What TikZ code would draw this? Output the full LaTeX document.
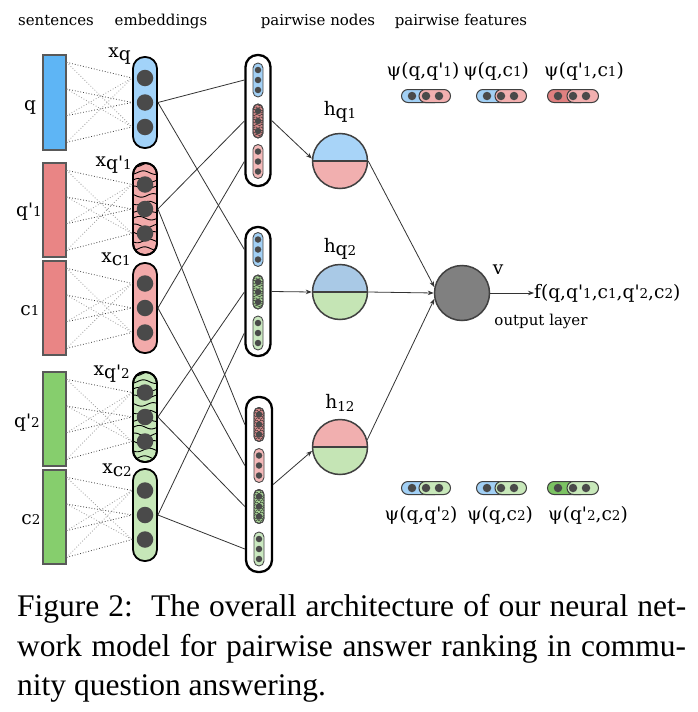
\documentclass[tikz,border=0pt]{standalone}
\usepackage{fontspec}
\setmainfont{DejaVu Serif}
\newfontfamily\capfont{Liberation Serif}
\usetikzlibrary{arrows.meta,calc}
\pgfdeclarelayer{bg}
\pgfsetlayers{bg,main}
\definecolor{sblue}{HTML}{5EB5F5}
\definecolor{sred}{HTML}{E98585}
\definecolor{sgreen}{HTML}{86CE6D}
\definecolor{eblue}{HTML}{A2D3F9}
\definecolor{ered}{HTML}{F2AAAA}
\definecolor{egreen}{HTML}{C6E7B8}
\definecolor{dotc}{HTML}{4A4A4A}
\definecolor{hblue}{HTML}{A8D4F8}
\definecolor{hblueb}{HTML}{A9C9E6}
\definecolor{hpink}{HTML}{F1AFAF}
\definecolor{hgreen}{HTML}{C5E5B5}
\definecolor{mblue}{HTML}{A2D0F5}
\definecolor{mred}{HTML}{D68A8A}
\definecolor{mpink}{HTML}{F4B9B9}
\definecolor{mgreen}{HTML}{A6D094}
\definecolor{mlgreen}{HTML}{CAE8C0}
\definecolor{fblue}{HTML}{A2D0F5}
\definecolor{fpink}{HTML}{F2AFAF}
\definecolor{fred}{HTML}{E08080}
\definecolor{fgreen}{HTML}{7CC363}
\definecolor{fgreenl}{HTML}{C8E8BA}
\definecolor{vgray}{HTML}{808080}
\definecolor{lc}{HTML}{333333}
\newcommand\hdrsz{\fontsize{15}{18}\selectfont}
\newcommand\lbsz{\fontsize{18.6}{21}\selectfont}
\newcommand\od[1]{{\fontsize{13.5}{13.5}\selectfont #1}}
\newcommand\lowr[1]{\raisebox{-3pt}{#1}}
\newcommand\pr{\textquotesingle}
\tikzset{
  sent/.style={draw=black!65, line width=1.3pt, fill=#1, minimum width=23pt, inner sep=0pt},
  emb/.style={draw=black, line width=1.8pt, fill=#1, rounded corners=11.5pt, minimum width=24pt, inner sep=0pt},
  bigdot/.style={circle, fill=dotc, minimum size=16.5pt, inner sep=0pt},
  pair/.style={draw=black, line width=2.3pt, fill=white, rounded corners=12pt, minimum width=25pt, inner sep=0pt},
  mini/.style={draw=black!70, line width=0.9pt, fill=#1, rounded corners=5pt, minimum width=10pt, minimum height=34pt, inner sep=0pt},
  smalldot/.style={circle, fill=dotc, minimum size=6.5pt, inner sep=0pt},
  feat/.style={draw=black!75, line width=1pt, fill=#1, rounded corners=6.5pt, minimum height=13pt, inner sep=0pt},
  fdot/.style={circle, fill=dotc, minimum size=8.5pt, inner sep=0pt},
  hnode/.style 2 args={circle, draw=black!75, line width=1.5pt, minimum size=55pt, inner sep=0pt,
    path picture={
      \fill[#1] (path picture bounding box.north west) rectangle (path picture bounding box.east);
      \fill[#2] (path picture bounding box.west) rectangle (path picture bounding box.south east);
      \draw[black!75, line width=1.5pt] (path picture bounding box.west) -- (path picture bounding box.east);}},
  conn/.style={draw=lc, line width=0.8pt},
  arr/.style={conn, -{Stealth[length=6pt, width=4.5pt]}},
  dk/.style={draw=black!75, line width=0.8pt, dotted},
  gr/.style={draw=black!40, line width=0.8pt, dotted},
  hdr/.style={inner sep=0pt, anchor=base, font=\hdrsz},
  lbl/.style={inner sep=0pt, anchor=base, font=\lbsz},
}
\begin{document}
\begin{tikzpicture}[x=1pt,y=-1pt]
\path[use as bounding box, fill=white] (0,0) rectangle (698,712);

% headers
\node[hdr] (hs) at (56,25) {sentences};
\node[hdr] (he) at (161,25) {embeddings};
\node[hdr] (hp) at (318,25) {pairwise nodes};
\node[hdr] (hf) at (461,25) {pairwise features};

% sentences
\node[sent=sblue, minimum height=95pt] (sq) at (54.5,102.5) {};
\node[sent=sred, minimum height=94pt] (sqa) at (54.5,210) {};
\node[sent=sred, minimum height=94pt] (sc) at (54.5,308) {};
\node[sent=sgreen, minimum height=94pt] (sqb) at (54.5,419) {};
\node[sent=sgreen, minimum height=94pt] (scb) at (54.5,517) {};
\node[lbl] (lq) at (30,110) {q};
\node[lbl] (lqa) at (29,216) {q\pr\od{1}};
\node[lbl] (lc) at (30,315) {c\od{1}};
\node[lbl] (lqb) at (27,427) {q\pr\od{2}};
\node[lbl] (lcb) at (31,524) {c\od{2}};

% embeddings
\foreach \nm/\col/\yy/\hh in {eq/eblue/102.5/91, eqa/ered/209/92, ec/ered/308/90, eqb/egreen/417/90, ecb/egreen/515/92}{
  \node[emb=\col, minimum height=\hh pt] (\nm) at (145,\yy) {};
}
% wavy stripes on two embeddings
\foreach \nm/\yy/\hh in {eqa/209/92, eqb/417/90}{
  \begin{scope}
    \clip[rounded corners=11pt] (133,{\yy-\hh/2}) rectangle (157,{\yy+\hh/2});
    \foreach \k in {0,...,12}{
      \draw[line width=0.9pt, black] plot[domain=130:160, samples=16, smooth] (\x, {\yy-\hh/2+2+\k*7.6+1.8*sin((\x-130)*15+\k*70)});
    }
  \end{scope}
  \draw[line width=1.8pt, rounded corners=11.5pt] (133,{\yy-\hh/2}) rectangle (157,{\yy+\hh/2});
}
\foreach \nm/\yy in {eq/102.5, eqa/209, ec/308, eqb/417, ecb/515}{
  \foreach \n/\o in {1/-24.5,2/0,3/24.5} \node[bigdot] (\nm\n) at (145,{\yy+(\o)}) {};
}
\node[lbl, anchor=base east] (leq) at (131,57) {x\lowr{q}};
\node[lbl, anchor=base east] (leqa) at (132,166) {x\lowr{q\pr\od{1}}};
\node[lbl, anchor=base east] (lec) at (131,262) {x\lowr{c\od{1}}};
\node[lbl, anchor=base east] (leqb) at (130,375) {x\lowr{q\pr\od{2}}};
\node[lbl, anchor=base east] (lecb) at (132,473) {x\lowr{c\od{2}}};

% dotted sentence -> embedding
\foreach \s/\e in {sq/eq, sqa/eqa, sc/ec, sqb/eqb, scb/ecb}{
  \coordinate (\s-p1) at ($(\s.north east)+(0,8)$);
  \coordinate (\s-p2) at ($(\s.north east)+(0,34.7)$);
  \coordinate (\s-p3) at ($(\s.north east)+(0,61.3)$);
  \coordinate (\s-p4) at ($(\s.north east)+(0,88)$);
  \draw[dk] (\s-p1) -- (\e1 -| \e.west);
  \draw[gr] (\s-p1) -- (\e3 -| \e.west);
  \draw[dk] (\s-p2) -- (\e2 -| \e.west);
  \draw[gr] (\s-p2) -- (\e3 -| \e.west);
  \draw[dk] (\s-p3) -- (\e2 -| \e.west);
  \draw[gr] (\s-p3) -- (\e1 -| \e.west);
  \draw[gr] (\s-p4) -- (\e1 -| \e.west);
  \draw[dk] (\s-p4) -- (\e3 -| \e.west);
}

% pairwise nodes
\node[pair, minimum height=131pt] (P1) at (258,120.5) {};
\node[pair, minimum height=129pt] (P2) at (258,291.5) {};
\node[pair, minimum height=175pt, minimum width=26pt] (P3) at (259,484.5) {};
\foreach \nm/\px/\yy/\col in {p1a/258/80/mblue, p1b/258/121/mred, p1c/258/161.5/mpink, p2a/258/249.5/mblue, p2b/258/292/mgreen, p2c/258/333/mlgreen, p3a/259/424.5/mred, p3b/259/465.5/mpink, p3c/259/506.5/mgreen, p3d/259/549/mlgreen}{
  \node[mini=\col] (\nm) at (\px,\yy) {};
}
\foreach \px/\yy in {258/121, 258/292, 259/424.5, 259/506.5}{
  \begin{scope}
    \clip[rounded corners=5pt] ({\px-5},{\yy-17}) rectangle ({\px+5},{\yy+17});
    \foreach \k in {0,...,13}{
      \draw[line width=0.45pt, black!85] plot[domain={\px-7}:{\px+7}, samples=9, smooth] (\x, {\yy-17+1+\k*2.5+1*sin((\x-\px)*70+\k*90)});
    }
  \end{scope}
  \draw[black!70, line width=0.9pt, rounded corners=5pt] ({\px-5},{\yy-17}) rectangle ({\px+5},{\yy+17});
}
\foreach \nm/\px/\yy in {p1a/258/80, p1b/258/121, p1c/258/161.5, p2a/258/249.5, p2b/258/292, p2c/258/333, p3a/259/424.5, p3b/259/465.5, p3c/259/506.5, p3d/259/549}{
  \foreach \n/\o in {1/-10,2/0,3/10} \node[smalldot] (\nm d\n) at (\px,{\yy+(\o)}) {};
}

% embeddings -> pairwise
\draw[conn] (eq.east) -- (p1a -| P1.west);
\draw[conn] (eq.east) -- (p2a -| P2.west);
\draw[conn] (eqa.east) -- (p1b -| P1.west);
\draw[conn] (eqa.east) -- (p3a -| P3.west);
\draw[conn] (ec.east) -- (p1c -| P1.west);
\draw[conn] (ec.east) -- (p3b -| P3.west);
\draw[conn] (eqb.east) -- (p2b -| P2.west);
\draw[conn] (eqb.east) -- (p3c -| P3.west);
\draw[conn] (ecb.east) -- (p2c -| P2.west);
\draw[conn] (ecb.east) -- (p3d -| P3.west);

% hidden nodes
\node[hnode={hblue}{hpink}] (hq1) at (340,161) {};
\node[hnode={hblueb}{hgreen}] (hq2) at (340,292) {};
\node[hnode={hpink}{hgreen}] (h12) at (340,447) {};
\node[lbl] (lhq1) at (340,115) {h\lowr{q\od{1}}};
\node[lbl] (lhq2) at (340,252) {h\lowr{q\od{2}}};
\node[lbl] (lh12) at (340,408) {h\lowr{\od{12}}};
\draw[arr] (P1.east) -- (hq1.175);
\draw[arr] (P2.east) -- (hq2.west);
\draw[arr] (P3.east) -- (h12.188);

% output
\node[circle, fill=vgray, draw=black!75, line width=1.5pt, minimum size=55pt, inner sep=0pt] (v) at (462,293) {};
\node[lbl] (lv) at (498,274) {v};
\node[hdr] (lout) at (541,325) {output layer};
\node[lbl, anchor=west] (fo) at (534,293) {f(q,q\pr\od{1},c\od{1},q\pr\od{2},c\od{2})};
\draw[arr] (v.east) -- (fo.west);
\draw[arr] (hq1.east) -- (v.168);
\draw[arr] (hq2.east) -- (v.west);
\draw[arr] (h12.15) -- (v.192);

% pairwise features
\foreach \nm/\xl/\xr/\xe/\yy/\ca/\cb in {ft1/401/420/451/96/fblue/fpink, ft2/476/495/527/96/fblue/fpink, ft3/547/567/599/96/fred/fpink, fb1/401/420/451/488/fblue/fgreenl, fb2/476/495/527/488/fblue/fgreenl, fb3/547/567/599/488/fgreen/fgreenl}{
  \node[feat=\ca, minimum width=40pt, anchor=west] (\nm-l) at (\xl,\yy) {};
  \node[feat=\cb, minimum width=31.5pt, anchor=east] (\nm-r) at (\xe,\yy) {};
  \node[fdot] (\nm-d1) at ({\xl+11},\yy) {};
  \node[fdot] (\nm-d2) at ({\xr+6},\yy) {};
  \node[fdot] (\nm-d3) at ({\xr+19},\yy) {};
}
\begin{pgfonlayer}{bg}
\draw[arr] (ft1-d2.center) -- (v.100);
\draw[arr] (ft2-d2.center) -- (v.80);
\draw[arr] (ft3-d2.center) -- (v.58);
\draw[arr] (fb1-d2.center) -- (v.260);
\draw[arr] (fb2-d2.center) -- (v.280);
\draw[arr] (fb3-d2.center) -- (v.302);
\end{pgfonlayer}
\node[lbl] (lft1) at (423,76) {ψ(q,q\pr\od{1})};
\node[lbl] (lft2) at (496,76) {ψ(q,c\od{1})};
\node[lbl] (lft3) at (584,76) {ψ(q\pr\od{1},c\od{1})};
\node[lbl] (lfb1) at (421,520) {ψ(q,q\pr\od{2})};
\node[lbl] (lfb2) at (500,520) {ψ(q,c\od{2})};
\node[lbl] (lfb3) at (588,520) {ψ(q\pr\od{2},c\od{2})};

% caption
\node[anchor=base west, inner sep=0pt] (cap1) at (17,616) {\capfont\fontsize{31.5}{36}\selectfont\makebox[669pt][s]{Figure 2:\ \ The overall architecture of our neural net-}};
\node[anchor=base west, inner sep=0pt] (cap2) at (17,656) {\capfont\fontsize{31.5}{36}\selectfont\makebox[669pt][s]{work model for pairwise answer ranking in commu-}};
\node[anchor=base west, inner sep=0pt] (cap3) at (17,695) {\capfont\fontsize{31.5}{36}\selectfont nity question answering.};
\end{tikzpicture}
\end{document}
